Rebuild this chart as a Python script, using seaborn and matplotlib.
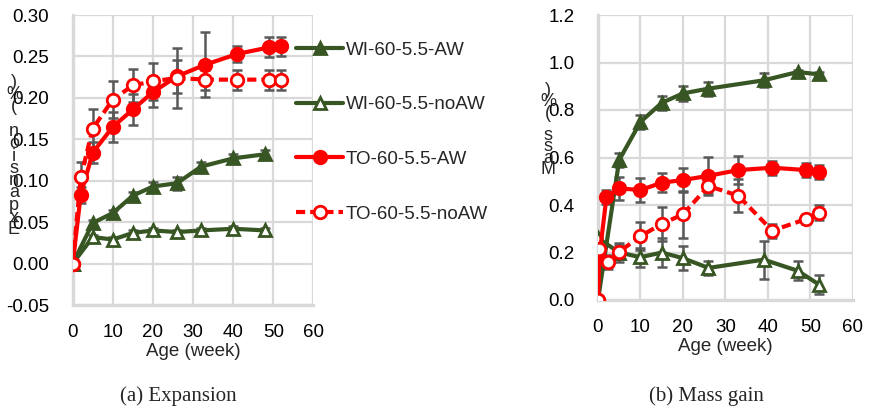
"""
Expansion and mass gain vs. age, two panels with shared legend.
Output: out.png
"""

import matplotlib
matplotlib.use("Agg")
import matplotlib.pyplot as plt
import seaborn as sns

# ---- (a) Expansion data ----
exp_wi_aw_x = [0, 5, 10, 15, 20, 26, 32, 40, 48]
exp_wi_aw_y = [0.0, 0.049, 0.061, 0.082, 0.093, 0.097, 0.117, 0.127, 0.132]
exp_wi_aw_e = [0.0, 0.004, 0.004, 0.004, 0.005, 0.008, 0.006, 0.005, 0.005]

exp_wi_no_x = [0, 5, 10, 15, 20, 26, 32, 40, 48]
exp_wi_no_y = [0.0, 0.032, 0.029, 0.037, 0.040, 0.038, 0.040, 0.042, 0.040]
exp_wi_no_e = [0.0, 0.003, 0.003, 0.003, 0.003, 0.003, 0.003, 0.003, 0.003]

exp_to_aw_x = [0, 2, 5, 10, 15, 20, 26, 33, 41, 49, 52]
exp_to_aw_y = [0.0, 0.083, 0.134, 0.165, 0.186, 0.207, 0.226, 0.240, 0.253, 0.261, 0.262]
exp_to_aw_e = [0.0, 0.010, 0.013, 0.018, 0.019, 0.018, 0.020, 0.039, 0.010, 0.012, 0.012]

exp_to_no_x = [0, 2, 5, 10, 15, 20, 26, 33, 41, 49, 52]
exp_to_no_y = [0.0, 0.104, 0.163, 0.198, 0.215, 0.220, 0.224, 0.222, 0.222, 0.222, 0.222]
exp_to_no_e = [0.0, 0.018, 0.024, 0.022, 0.020, 0.022, 0.036, 0.012, 0.012, 0.012, 0.012]

# ---- (b) Mass gain data ----
mass_wi_aw_x = [0, 5, 10, 15, 20, 26, 39, 47, 52]
mass_wi_aw_y = [0.0, 0.59, 0.75, 0.83, 0.87, 0.89, 0.925, 0.96, 0.95]
mass_wi_aw_e = [0.0, 0.03, 0.03, 0.03, 0.03, 0.03, 0.03, 0.01, 0.01]

mass_wi_no_x = [0, 5, 10, 15, 20, 26, 39, 47, 52]
mass_wi_no_y = [0.26, 0.20, 0.18, 0.20, 0.176, 0.135, 0.17, 0.123, 0.065]
mass_wi_no_e = [0.0, 0.04, 0.04, 0.06, 0.05, 0.03, 0.08, 0.04, 0.04]

mass_to_aw_x = [0, 0.3, 2, 5, 10, 15, 20, 26, 33, 41, 49, 52]
mass_to_aw_y = [0.0, 0.18, 0.435, 0.47, 0.463, 0.494, 0.505, 0.523, 0.547, 0.557, 0.547, 0.538]
mass_to_aw_e = [0.0, 0.0, 0.03, 0.05, 0.05, 0.04, 0.05, 0.08, 0.06, 0.03, 0.03, 0.03]

mass_to_no_x = [0, 0.3, 2.4, 5, 10, 15, 20, 26, 33, 41, 49, 52]
mass_to_no_y = [0.0, 0.213, 0.161, 0.203, 0.269, 0.32, 0.361, 0.48, 0.439, 0.292, 0.341, 0.368]
mass_to_no_e = [0.0, 0.0, 0.03, 0.03, 0.06, 0.07, 0.10, 0.03, 0.07, 0.03, 0.02, 0.03]

LABELS = ["WI-60-5.5-AW", "WI-60-5.5-noAW", "TO-60-5.5-AW", "TO-60-5.5-noAW"]
GREEN = "#375623"
RED = "#ff0000"
GRID = "#d9d9d9"
ERR = "#595959"

sns.set_theme(style="white")
plt.rcParams["font.family"] = ["Liberation Sans", "DejaVu Sans"]

fig = plt.figure(figsize=(8.7, 4.12), dpi=100)
ax1 = fig.add_axes([72.7 / 870, 1 - 305 / 412, (313.5 - 72.7) / 870, 290 / 412])
ax2 = fig.add_axes([598 / 870, 1 - 300 / 412, (853 - 598) / 870, 285 / 412])

styles = [
    dict(color=GREEN, marker="^", mfc=GREEN, ls="-"),
    dict(color=GREEN, marker="^", mfc="white", ls="-"),
    dict(color=RED, marker="o", mfc=RED, ls="-"),
    dict(color=RED, marker="o", mfc="white", ls=(0, (2.2, 1.2))),
]


def draw_panel(ax, series, ylim, yticks, yfmt):
    for i, (x, y, e) in enumerate(series):
        st = styles[i]
        ax.errorbar(x, y, yerr=e, fmt="none", ecolor=ERR, elinewidth=1.8,
                    capsize=3.5, capthick=1.8, zorder=2)
        sns.lineplot(x=x, y=y, ax=ax, color=st["color"], linestyle=st["ls"],
                     linewidth=3, marker=st["marker"], markersize=9,
                     markerfacecolor=st["mfc"], markeredgecolor=st["color"],
                     markeredgewidth=2, label=LABELS[i], legend=False,
                     estimator=None, sort=False, zorder=3 + i)
    ax.set_xlim(0, 60)
    ax.set_ylim(*ylim)
    ax.set_xticks(range(0, 61, 10))
    ax.set_yticks(yticks)
    ax.set_yticklabels([yfmt.format(v) for v in yticks])
    ax.grid(True, color=GRID, linewidth=1.6)
    ax.set_axisbelow(True)
    for s in ["top", "right"]:
        ax.spines[s].set_visible(False)
    for s in ["left", "bottom"]:
        ax.spines[s].set_color(GRID)
        ax.spines[s].set_linewidth(2.4)
    ax.tick_params(axis="both", labelsize=13.5, length=0, colors="black")
    ax.tick_params(axis="y", pad=17)
    ax.tick_params(axis="x", pad=14)
    ax.set_xlabel("Age (week)", fontsize=13.5, labelpad=1)
    ax.set_ylabel("")


draw_panel(ax1, [(exp_wi_aw_x, exp_wi_aw_y, exp_wi_aw_e),
                 (exp_wi_no_x, exp_wi_no_y, exp_wi_no_e),
                 (exp_to_aw_x, exp_to_aw_y, exp_to_aw_e),
                 (exp_to_no_x, exp_to_no_y, exp_to_no_e)],
           (-0.05, 0.30), [-0.05, 0, 0.05, 0.10, 0.15, 0.20, 0.25, 0.30], "{:.2f}")
draw_panel(ax2, [(mass_wi_aw_x, mass_wi_aw_y, mass_wi_aw_e),
                 (mass_wi_no_x, mass_wi_no_y, mass_wi_no_e),
                 (mass_to_aw_x, mass_to_aw_y, mass_to_aw_e),
                 (mass_to_no_x, mass_to_no_y, mass_to_no_e)],
           (0, 1.2), [0, 0.2, 0.4, 0.6, 0.8, 1.0, 1.2], "{:.1f}")

# stacked (garbled) y labels as in the source
fig.text(14 / 870, 1 - 156 / 412, "\n".join(reversed("Expansion (%)")),
         ha="center", va="center", fontsize=13, linespacing=0.64)
fig.text(548 / 870, 1 - 130 / 412, "\n".join(reversed("Mass (%)")),
         ha="center", va="center", fontsize=13, linespacing=0.56)

handles, labels = ax1.get_legend_handles_labels()
fig.legend(handles, labels, loc="center left",
           bbox_to_anchor=(287 / 870, 1 - 132 / 412), frameon=False,
           fontsize=13.5, handlelength=2.5, handletextpad=0.15,
           labelspacing=2.0, borderpad=0, numpoints=1)

fig.text(178 / 870, 1 - 396 / 412, "(a) Expansion", ha="center", va="center",
         fontsize=15, family=["Liberation Serif", "DejaVu Serif"])
fig.text(706 / 870, 1 - 396 / 412, "(b) Mass gain", ha="center", va="center",
         fontsize=15, family=["Liberation Serif", "DejaVu Serif"])

fig.savefig("out.png", dpi=100)
